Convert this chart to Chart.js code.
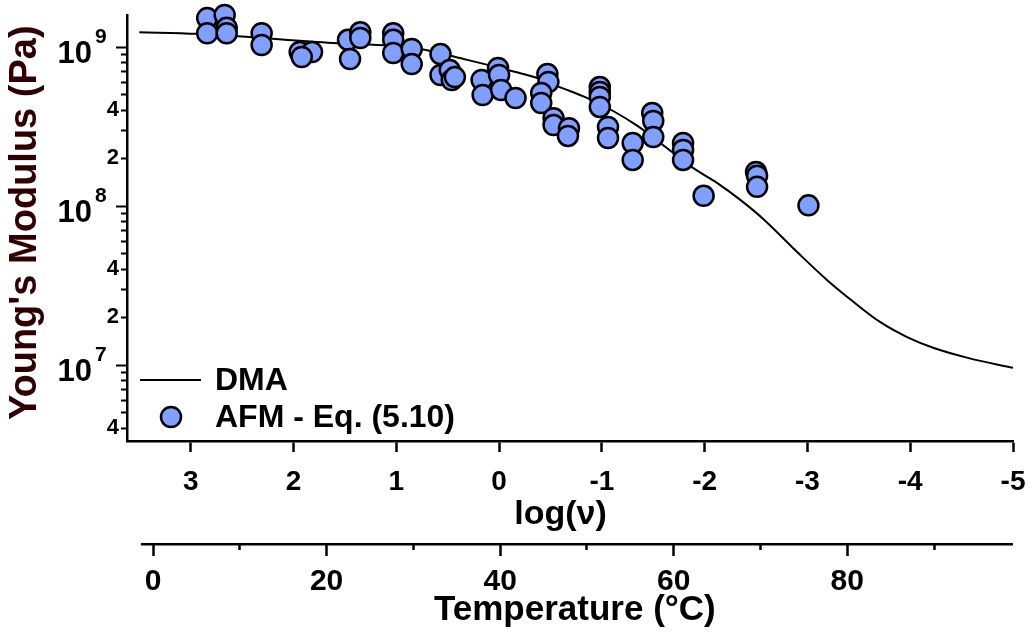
<!DOCTYPE html>
<html>
<head>
<meta charset="utf-8">
<title>Young's Modulus vs log(ν)</title>
<script src="https://cdn.jsdelivr.net/npm/chart.js@4/dist/chart.umd.min.js"></script>
<style>
  html, body { margin: 0; padding: 0; background: #fff; }
  canvas { display: block; }
</style>
</head>
<body>
<canvas id="chart" width="1029" height="632"></canvas>
<script>
// DMA master curve: log frequency vs Young's modulus (Pa)
const dmaLogFreq = [3.50, 2.94, 1.62, 0.84, 0.31, -0.16, -0.37, -0.59, -0.86, -1.11, -1.35, -1.62,
                    -1.89, -2.12, -2.35, -2.57, -2.90, -3.19, -3.45, -3.71, -3.97, -4.23, -4.56, -5.00];
const dmaModulus = [1.24e9, 1.21e9, 1.06e9, 9.9e8, 8.3e8, 6.96e8, 6.39e8, 5.6e8, 4.77e8, 3.96e8, 3.18e8, 2.35e8,
                    1.73e8, 1.40e8, 1.09e8, 8.3e7, 5.14e7, 3.43e7, 2.49e7, 1.86e7, 1.50e7, 1.28e7, 1.11e7, 9.6e6];

// AFM measurements evaluated with Eq. (5.10)
const afmLogFreq = [2.84, 2.84, 2.67, 2.65, 2.65,
                    2.31, 2.31,
                    1.94, 1.82, 1.92,
                    1.47, 1.35, 1.35, 1.45,
                    1.03, 1.03, 1.03, 0.85, 0.85,
                    0.57, 0.57, 0.48, 0.46, 0.43,
                    0.17, 0.16, 0.01, 0.00, -0.02, -0.16,
                    -0.47, -0.48, -0.41, -0.41, -0.53, -0.53, -0.68, -0.67,
                    -0.98, -0.98, -0.98, -0.98, -1.06, -1.06, -1.30, -1.30,
                    -1.49, -1.50, -1.50,
                    -1.79, -1.79, -1.79,
                    -1.99,
                    -2.50, -2.51, -2.51,
                    -3.01];
const afmModulus = [1.52e9, 1.22e9, 1.59e9, 1.32e9, 1.22e9,
                    1.22e9, 1.03e9,
                    9.3e8, 9.3e8, 8.66e8,
                    1.11e9, 1.24e9, 1.14e9, 8.41e8,
                    1.22e9, 1.11e9, 9.17e8, 9.71e8, 7.81e8,
                    9.03e8, 6.67e8, 7.16e8, 6.2e8, 6.47e8,
                    6.2e8, 4.99e8, 7.38e8, 6.67e8, 5.37e8, 4.78e8,
                    6.76e8, 6.03e8, 5.14e8, 4.45e8, 3.57e8, 3.23e8, 3.09e8, 2.76e8,
                    5.6e8, 5.21e8, 4.85e8, 4.2e8, 3.14e8, 2.68e8, 2.49e8, 1.95e8,
                    3.85e8, 3.43e8, 2.72e8,
                    2.49e8, 2.25e8, 1.95e8,
                    1.16e8,
                    1.64e8, 1.55e8, 1.32e8,
                    1.01e8];

// Axis ticks
const logFreqTicks = [3, 2, 1, 0, -1, -2, -3, -4, -5];
const temperatureTicks = [0, 10, 20, 30, 40, 50, 60, 70, 80, 90];
const temperatureLabelled = [0, 20, 40, 60, 80];
const modulusDecades = [6, 7, 8, 9];
const modulusMantissas = [1, 2, 3, 4, 5, 6, 7, 8, 9];
const modulusLabelledMantissas = [2, 4];

// Axis extents
const logFreqRange = { min: -5, max: 3.62 };
const temperatureRange = { min: -3, max: 99.1, lineStart: -1.4 };
const modulusRange = { min: 3.33e6, max: 1.59e9 };

const FONT = "'Liberation Sans', Arial, Helvetica, sans-serif";
Chart.defaults.font.family = FONT;
Chart.defaults.color = '#000';

const mantissaOf = v => Math.round(v / Math.pow(10, Math.floor(Math.log10(v) + 1e-9)));

// "10" with a raised exponent next to each decade tick of the modulus axis
const decadeLabels = {
  id: 'decadeLabels',
  afterDraw(chart) {
    const s = chart.scales.y, ctx = chart.ctx;
    ctx.save();
    ctx.fillStyle = '#000';
    s.ticks.forEach(t => {
      if (mantissaOf(t.value) !== 1) return;
      const exp = Math.round(Math.log10(t.value));
      const py = s.getPixelForValue(t.value);
      ctx.font = `bold 31px ${FONT}`;
      ctx.textAlign = 'right';
      ctx.textBaseline = 'alphabetic';
      ctx.fillText('10', s.right - 35, py + 16);
      ctx.font = `bold 21px ${FONT}`;
      ctx.textAlign = 'left';
      ctx.fillText(String(exp), s.right - 32, py - 4);
    });
    ctx.restore();
  }
};

// Temperature axis line, starting a little left of 0 °C
const temperatureAxisLine = {
  id: 'temperatureAxisLine',
  afterDraw(chart) {
    const s = chart.scales.xT, ctx = chart.ctx;
    ctx.save();
    ctx.strokeStyle = '#000';
    ctx.lineWidth = 2.5;
    ctx.beginPath();
    ctx.moveTo(s.getPixelForValue(temperatureRange.lineStart), s.top + 1.25);
    ctx.lineTo(s.right, s.top + 1.25);
    ctx.stroke();
    ctx.restore();
  }
};

// Legend drawn inside the lower-left corner of the plot
const insetLegend = {
  id: 'insetLegend',
  afterDraw(chart) {
    const ctx = chart.ctx, area = chart.chartArea;
    const afm = chart.data.datasets[0], dma = chart.data.datasets[1];
    const x0 = area.left + 13;
    const yLine = area.bottom - 61, yDot = area.bottom - 24;
    ctx.save();
    ctx.strokeStyle = dma.borderColor;
    ctx.lineWidth = dma.borderWidth;
    ctx.beginPath();
    ctx.moveTo(x0, yLine);
    ctx.lineTo(x0 + 61, yLine);
    ctx.stroke();

    ctx.beginPath();
    ctx.arc(x0 + 31, yDot, afm.pointRadius, 0, Math.PI * 2);
    ctx.fillStyle = afm.backgroundColor;
    ctx.fill();
    ctx.lineWidth = afm.borderWidth;
    ctx.strokeStyle = afm.borderColor;
    ctx.stroke();

    ctx.fillStyle = '#000';
    ctx.font = `bold 32px ${FONT}`;
    ctx.textAlign = 'left';
    ctx.textBaseline = 'middle';
    ctx.fillText(dma.label, x0 + 75, yLine + 1);
    ctx.fillText(afm.label, x0 + 75, yDot + 1);
    ctx.restore();
  }
};

const noSidePadding = s => { s.paddingLeft = 0; s.paddingRight = 0; };

new Chart(document.getElementById('chart'), {
  type: 'scatter',
  data: {
    datasets: [
      {
        label: 'AFM - Eq. (5.10)',
        data: afmLogFreq.map((x, i) => ({ x, y: afmModulus[i] })),
        pointRadius: 10,
        pointHoverRadius: 10,
        backgroundColor: '#809fff',
        borderColor: '#000',
        borderWidth: 2.5,
        clip: false,
        order: 0,
        xAxisID: 'x',
        yAxisID: 'y'
      },
      {
        type: 'line',
        label: 'DMA',
        data: dmaLogFreq.map((x, i) => ({ x, y: dmaModulus[i] })),
        borderColor: '#000',
        borderWidth: 2,
        pointRadius: 0,
        fill: false,
        cubicInterpolationMode: 'monotone',
        order: 1,
        xAxisID: 'x',
        yAxisID: 'y'
      }
    ]
  },
  options: {
    responsive: false,
    animation: false,
    devicePixelRatio: 1,
    events: [],
    layout: { padding: { top: 15, right: 16, left: 0, bottom: 0 } },
    plugins: { legend: { display: false }, tooltip: { enabled: false } },
    scales: {
      x: {
        type: 'linear',
        position: 'bottom',
        reverse: true,
        min: logFreqRange.min,
        max: logFreqRange.max,
        weight: 0,
        afterBuildTicks: s => { s.ticks = logFreqTicks.map(v => ({ value: v })); },
        afterFit: s => { s.height = 102; noSidePadding(s); },
        border: { display: true, color: '#000', width: 2.5 },
        grid: { drawOnChartArea: false, drawTicks: true, tickLength: 11, tickWidth: 2.5, tickColor: '#000' },
        ticks: {
          font: { size: 28, weight: 'bold' }, color: '#000', padding: 13,
          autoSkip: false, maxRotation: 0, minRotation: 0,
          callback: v => String(v)
        },
        title: {
          display: true, text: 'log(ν)  ', color: '#000',
          font: { size: 34, weight: 'bold' }, padding: { top: 0, bottom: 8 }
        }
      },
      xT: {
        type: 'linear',
        position: 'bottom',
        min: temperatureRange.min,
        max: temperatureRange.max,
        weight: 1,
        afterBuildTicks: s => { s.ticks = temperatureTicks.map(v => ({ value: v })); },
        afterFit: s => { s.height = 89; noSidePadding(s); },
        border: { display: false },
        grid: {
          drawOnChartArea: false, drawTicks: true, tickLength: 13, tickWidth: 2.5, tickColor: '#000',
          tickBorderDash: c => (c.tick && temperatureLabelled.includes(c.tick.value)) ? [] : [7, 100]
        },
        ticks: {
          font: { size: 30, weight: 'bold' }, color: '#000', padding: 8,
          autoSkip: false, maxRotation: 0, minRotation: 0,
          callback: v => temperatureLabelled.includes(v) ? String(v) : ''
        },
        title: {
          display: true, text: ' Temperature (°C)', color: '#000',
          font: { size: 35, weight: 'bold' }, padding: { top: 0, bottom: 1 }
        }
      },
      y: {
        type: 'logarithmic',
        position: 'left',
        min: modulusRange.min,
        max: modulusRange.max,
        afterBuildTicks: s => {
          const t = [];
          modulusDecades.forEach(e => modulusMantissas.forEach(m => {
            const v = m * Math.pow(10, e);
            if (v >= s.min && v <= s.max) t.push({ value: v, major: m === 1 });
          }));
          s.ticks = t;
        },
        afterFit: s => { s.width = 127; s.paddingTop = 0; s.paddingBottom = 0; },
        border: { display: true, color: '#000', width: 2.5 },
        grid: {
          drawOnChartArea: false, drawTicks: true, tickLength: 11, tickWidth: 2, tickColor: '#000',
          tickBorderDash: c => (c.tick && mantissaOf(c.tick.value) === 1) ? [] : [0, 5, 6, 100]
        },
        ticks: {
          font: { size: 22, weight: 'bold' }, color: '#000', padding: -3,
          autoSkip: false,
          callback: v => modulusLabelledMantissas.includes(mantissaOf(v)) ? String(mantissaOf(v)) : ''
        },
        title: {
          display: true, text: " Young's Modulus (Pa)", color: '#300000',
          font: { size: 38, weight: 'bold' }, padding: { top: 3, bottom: 0 }
        }
      }
    }
  },
  plugins: [decadeLabels, temperatureAxisLine, insetLegend]
});
</script>
</body>
</html>
